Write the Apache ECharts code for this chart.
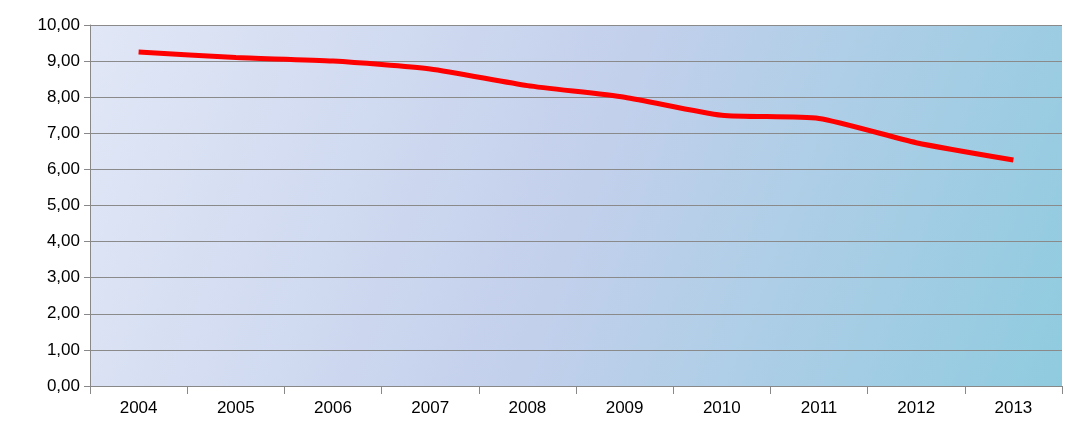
<!DOCTYPE html>
<html><head><meta charset="utf-8">
<script src="https://cdn.jsdelivr.net/npm/echarts@6/dist/echarts.min.js"></script>
<style>html,body{margin:0;padding:0;background:#fff}#c{width:1065px;height:428px}</style>
</head><body><div id="c"></div>
<script>
const categories = ['2004','2005','2006','2007','2008','2009','2010','2011','2012','2013'];
const values = [9.25, 9.10, 9.00, 8.78, 8.32, 8.00, 7.50, 7.41, 6.74, 6.26];
const chart = echarts.init(document.getElementById('c'));
chart.setOption({
  animation:false,
  grid:{left:90,right:3,top:25,bottom:42,show:true,borderWidth:0,
    backgroundColor:new echarts.graphic.LinearGradient(0,0,1,1,[
      {offset:0,color:'#e1e7f6'},{offset:0.5,color:'#c3d0ec'},{offset:1,color:'#8fcbdf'}])},
  xAxis:{type:'category',data:categories,boundaryGap:true,
    axisLine:{lineStyle:{color:'#888',width:1}},
    axisTick:{show:true,length:8,lineStyle:{color:'#888'}},
    axisLabel:{color:'#000',fontSize:17,fontFamily:'Liberation Sans, Arial',margin:14}},
  yAxis:{type:'value',min:0,max:10,interval:1,
    axisLine:{show:true,lineStyle:{color:'#888'}},
    axisTick:{show:true,length:6,lineStyle:{color:'#888'}},
    splitLine:{lineStyle:{color:'#8a8a8a',width:1}},
    axisLabel:{color:'#000',fontSize:17,fontFamily:'Liberation Sans, Arial',margin:10,
      formatter:v=>v.toFixed(2).replace('.',',')}},
  series:[{type:'line',data:values,symbol:'none',smooth:0.2,
    lineStyle:{color:'#ff0000',width:5}}]
});
</script></body></html>
